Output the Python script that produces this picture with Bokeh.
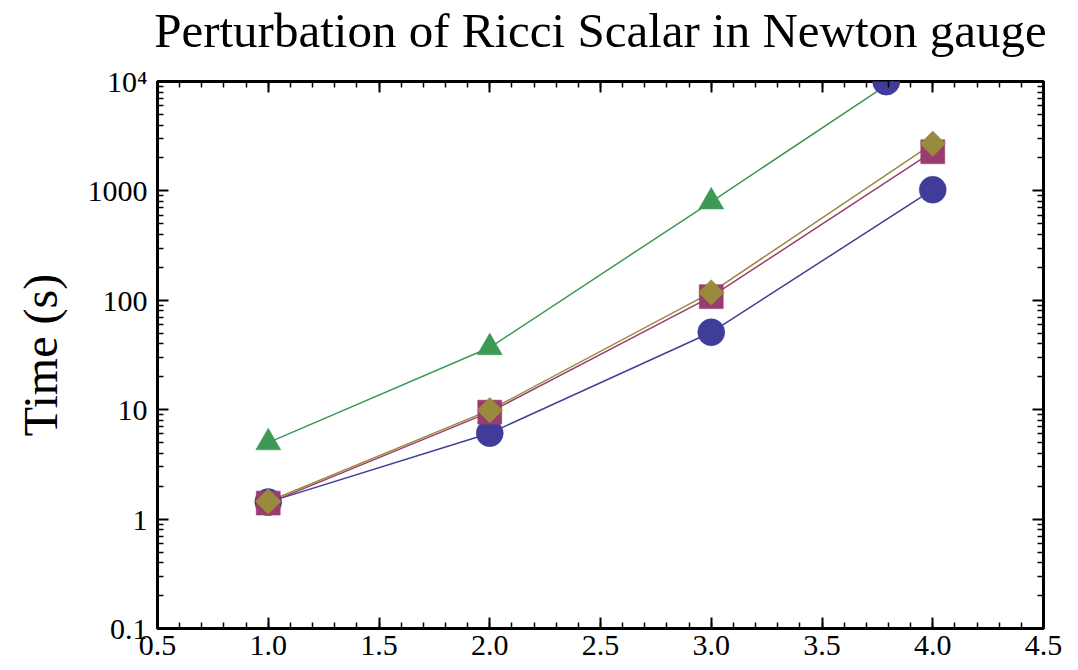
from bokeh.plotting import figure
from bokeh.models import FixedTicker, LinearAxis, LogAxis, Range1d
from bokeh.embed import file_html
from bokeh.resources import INLINE

# ---- data ----
x_vals = [1, 2, 3, 4]
blue_vals = [1.43, 6.1, 51, 1025]
purple_vals = [1.40, 9.5, 108, 2280]
green_vals = [5.0, 37, 795, 17700]
olive_vals = [1.45, 9.9, 118, 2700]
blue_extra_x = [3.79]
blue_extra_y = [10000]

x_tick_values = [0.5, 1.0, 1.5, 2.0, 2.5, 3.0, 3.5, 4.0, 4.5]
x_tick_labels = ["0.5", "1.0", "1.5", "2.0", "2.5", "3.0", "3.5", "4.0", "4.5"]
y_tick_values = [0.1, 1, 10, 100, 1000, 10000]
y_tick_labels = ["0.1", "1", "10", "100", "1000", "10\u2074"]

title_text = "Perturbation of Ricci Scalar in Newton gauge"
y_label = "Time (s)"

BLUE = "#3f3d99"
PURPLE = "#993d71"
GREEN = "#3d9956"
OLIVE = "#998b3d"
FONT = "Liberation Serif"

# minor ticks
x_minor = [round(0.5 + 0.1 * i, 2) for i in range(41)]
y_minor = []
for dec in [0.1, 1, 10, 100, 1000]:
    for m in range(2, 10):
        y_minor.append(dec * m)

p = figure(width=1078, height=670,
           x_range=Range1d(0.5, 4.5), y_range=Range1d(0.1, 10000),
           y_axis_type="log", output_backend="svg", toolbar_location=None,
           min_border_left=157, min_border_right=35, min_border_top=80,
           min_border_bottom=42, x_axis_location=None, y_axis_location=None)

p.title.text = title_text
p.title.text_font = FONT
p.title.text_font_size = "49px"
p.title.text_font_style = "normal"
p.title.align = "center"
p.title.standoff = 0
p.title.text_color = "black"

p.xgrid.visible = False
p.ygrid.visible = False
p.outline_line_color = "black"
p.outline_line_width = 3
p.background_fill_color = "white"
p.border_fill_color = "white"

xt = FixedTicker(ticks=x_tick_values, minor_ticks=x_minor)
yt = FixedTicker(ticks=y_tick_values, minor_ticks=y_minor)
x_over = dict(zip(x_tick_values, x_tick_labels))
y_over = dict(zip([float(v) for v in y_tick_values], y_tick_labels))


def style(ax, show_labels):
    ax.axis_line_color = None
    ax.major_tick_in = 11
    ax.major_tick_out = 0
    ax.minor_tick_in = 6
    ax.minor_tick_out = 0
    ax.major_tick_line_width = 2
    ax.minor_tick_line_width = 1.5
    ax.major_tick_line_color = "black"
    ax.minor_tick_line_color = "black"
    if show_labels:
        ax.major_label_text_font = FONT
        ax.major_label_text_font_size = "30px"
        ax.major_label_text_color = "black"
    else:
        ax.major_label_text_font_size = "0px"
        ax.major_label_text_color = None


bottom = LinearAxis(ticker=xt, major_label_overrides=x_over)
style(bottom, True)
bottom.major_label_standoff = 7
p.add_layout(bottom, "below")

top = LinearAxis(ticker=xt)
style(top, False)
p.add_layout(top, "above")

# invisible spacer axis: leaves a gap between the frame and the title
spacer = LinearAxis(ticker=xt)
style(spacer, False)
spacer.major_tick_in = 0
spacer.minor_tick_in = 0
spacer.major_tick_out = 24
spacer.major_tick_line_color = None
spacer.minor_tick_line_color = None
p.add_layout(spacer, "above")

left = LogAxis(ticker=yt, major_label_overrides=y_over)
style(left, True)
left.major_label_standoff = 10
left.axis_label = y_label
left.axis_label_text_font = FONT
left.axis_label_text_font_size = "48px"
left.axis_label_text_font_style = "normal"
left.axis_label_text_color = "black"
left.axis_label_standoff = 18
p.add_layout(left, "left")

right = LogAxis(ticker=yt)
style(right, False)
p.add_layout(right, "right")

series = [
    (blue_vals, BLUE, "circle", 27, 0),
    (purple_vals, PURPLE, "square", 24, 0),
    (green_vals, GREEN, "triangle", 25, 0),
    (olive_vals, OLIVE, "square", 18, 0.785398),
]
for vals, col, marker, size, ang in series:
    p.line(x_vals, vals, line_color=col, line_width=1.5)
for vals, col, marker, size, ang in series:
    p.scatter(x_vals, vals, marker=marker, size=size, angle=ang,
              fill_color=col, line_color=col, line_width=0.5)

p.scatter(blue_extra_x, blue_extra_y, marker="circle", size=27,
          fill_color=BLUE, line_color=BLUE)

open("out.html", "w").write(file_html(p, INLINE))
